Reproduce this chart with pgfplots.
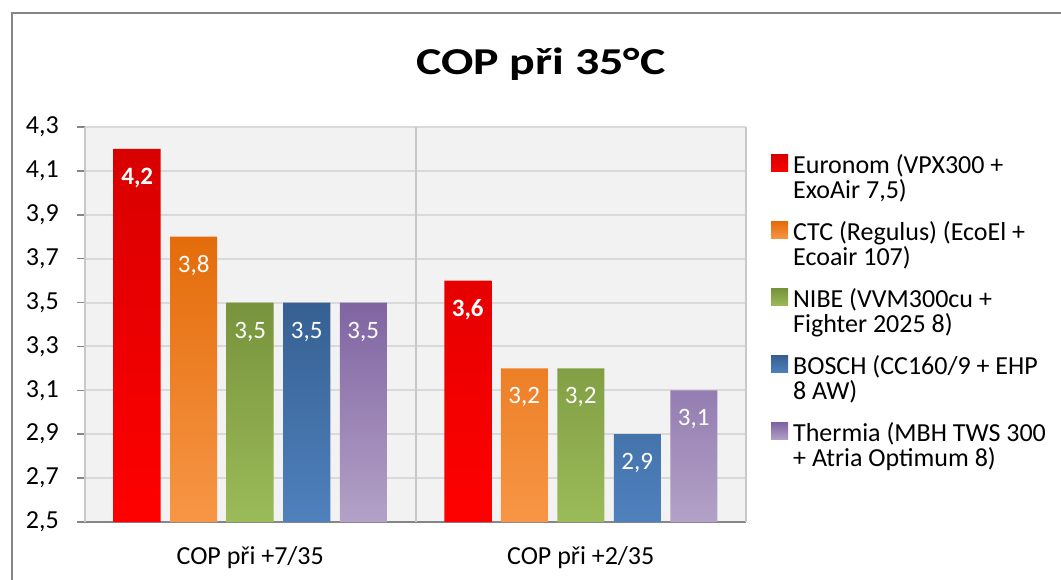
\documentclass[border=0pt]{standalone}
\usepackage{fontspec}
\setmainfont{Carlito}
\usepackage{graphicx}
\usepackage{pgfplots}
\pgfplotsset{compat=1.18}
\definecolor{axisgray}{HTML}{868686}
\definecolor{gridgray}{HTML}{D9D9D9}
\definecolor{vgridgray}{HTML}{C8C8C8}
\definecolor{bggray}{HTML}{F2F2F2}
\definecolor{redT}{HTML}{D80000}
\definecolor{redB}{HTML}{FF0000}
\definecolor{orT}{HTML}{E46C0A}
\definecolor{orB}{HTML}{F79646}
\definecolor{grT}{HTML}{77933C}
\definecolor{grB}{HTML}{9BBB59}
\definecolor{blT}{HTML}{366092}
\definecolor{blB}{HTML}{4F81BD}
\definecolor{puT}{HTML}{8064A2}
\definecolor{puB}{HTML}{B3A2C7}
\newcommand{\fs}{\fontsize{26}{32}\selectfont}
\newcommand{\fd}{\fontsize{25}{32}\selectfont}
\newcommand{\la}{\rule[-8pt]{0pt}{48pt}}
\newcommand{\lb}{\rule[-8pt]{0pt}{32pt}}
\begin{document}
\begin{tikzpicture}[x=1pt,y=1pt]
\begin{axis}[
  scale only axis, width=661pt, height=395pt,
  xmin=0.5, xmax=2.5, ymin=2.5, ymax=4.3,
  y coord trafo/.code={\pgfmathparse{#1-2.5}},
  y coord inv trafo/.code={\pgfmathparse{#1+2.5}},
  ytick={2.5,2.7,2.9,3.1,3.3,3.5,3.7,3.9,4.1,4.3},
  xtick={1,2},
  xticklabels={COP při +7/35, COP při +2/35},
  major x tick style={draw=none},
  extra x ticks={0.5,1.5,2.5},
  extra x tick labels={},
  extra x tick style={grid=major, major grid style={vgridgray, line width=2pt}, major x tick style={axisgray, line width=1.5pt}, major tick length=8pt},
  ymajorgrids, major grid style={gridgray, line width=2pt},
  tick align=outside, major tick length=8pt,
  y tick style={axisgray, line width=1.5pt},
  axis x line*=bottom, axis y line*=left,
  axis line style={axisgray, line width=1.5pt, -},
  axis background/.style={fill=bggray},
  /pgf/number format/.cd, use comma, fixed, fixed zerofill, precision=1, assume math mode=true,
  /pgfplots/.cd,
  tick label style={font=\fs, text=black},
  yticklabel style={anchor=east, inner sep=0pt, xshift=-18pt},
  xticklabel style={anchor=base, inner sep=0pt, yshift=-34pt},
  ybar=9.5pt, bar width=47pt,
  point meta=rawy,
  nodes near coords={\pgfmathprintnumber{\pgfplotspointmeta}},
  every node near coord/.append style={anchor=center, yshift=-29pt, text=white, font=\fd},
  legend style={at={(1.0378,0.9848)}, anchor=north west, draw=none, fill=none, inner sep=0pt, row sep=0pt, column sep=5pt, nodes={inner sep=0pt, font=\fs}},
  legend cell align=left,
  legend image code/.code={\path[#1, draw=none] (0pt,-18pt) rectangle (17pt,-1pt);},
]
\addplot[draw=none, top color=redT, bottom color=redB, every node near coord/.append style={font=\fd\bfseries}] coordinates {(1,4.2) (2,3.6)};
\addlegendentry{Euronom (VPX300 +\la}
\addlegendimage{empty legend}
\addlegendentry{ExoAir 7,5)\lb}
\addplot[draw=none, top color=orT, bottom color=orB] coordinates {(1,3.8) (2,3.2)};
\addlegendentry{CTC (Regulus) (EcoEl +\la}
\addlegendimage{empty legend}
\addlegendentry{Ecoair 107)\lb}
\addplot[draw=none, top color=grT, bottom color=grB] coordinates {(1,3.5) (2,3.2)};
\addlegendentry{NIBE (VVM300cu +\la}
\addlegendimage{empty legend}
\addlegendentry{Fighter 2025 8)\lb}
\addplot[draw=none, top color=blT, bottom color=blB] coordinates {(1,3.5) (2,2.9)};
\addlegendentry{BOSCH (CC160/9 + EHP\la}
\addlegendimage{empty legend}
\addlegendentry{8 AW)\lb}
\addplot[draw=none, top color=puT, bottom color=puB] coordinates {(1,3.5) (2,3.1)};
\addlegendentry{Thermia (MBH TWS 300\la}
\addlegendimage{empty legend}
\addlegendentry{+ Atria Optimum 8)\lb}
\end{axis}
\draw[axisgray, line width=1.5pt] (-73,-70) -- (-73,509) -- (990,509);
\node[anchor=base, inner sep=0pt] at (456,447) {\scalebox{1.26}[1]{\fontsize{38}{46}\selectfont\bfseries COP při 35°C}};
\pgfresetboundingbox
\useasboundingbox (-85,-57) rectangle (976,522);
\end{tikzpicture}
\end{document}
